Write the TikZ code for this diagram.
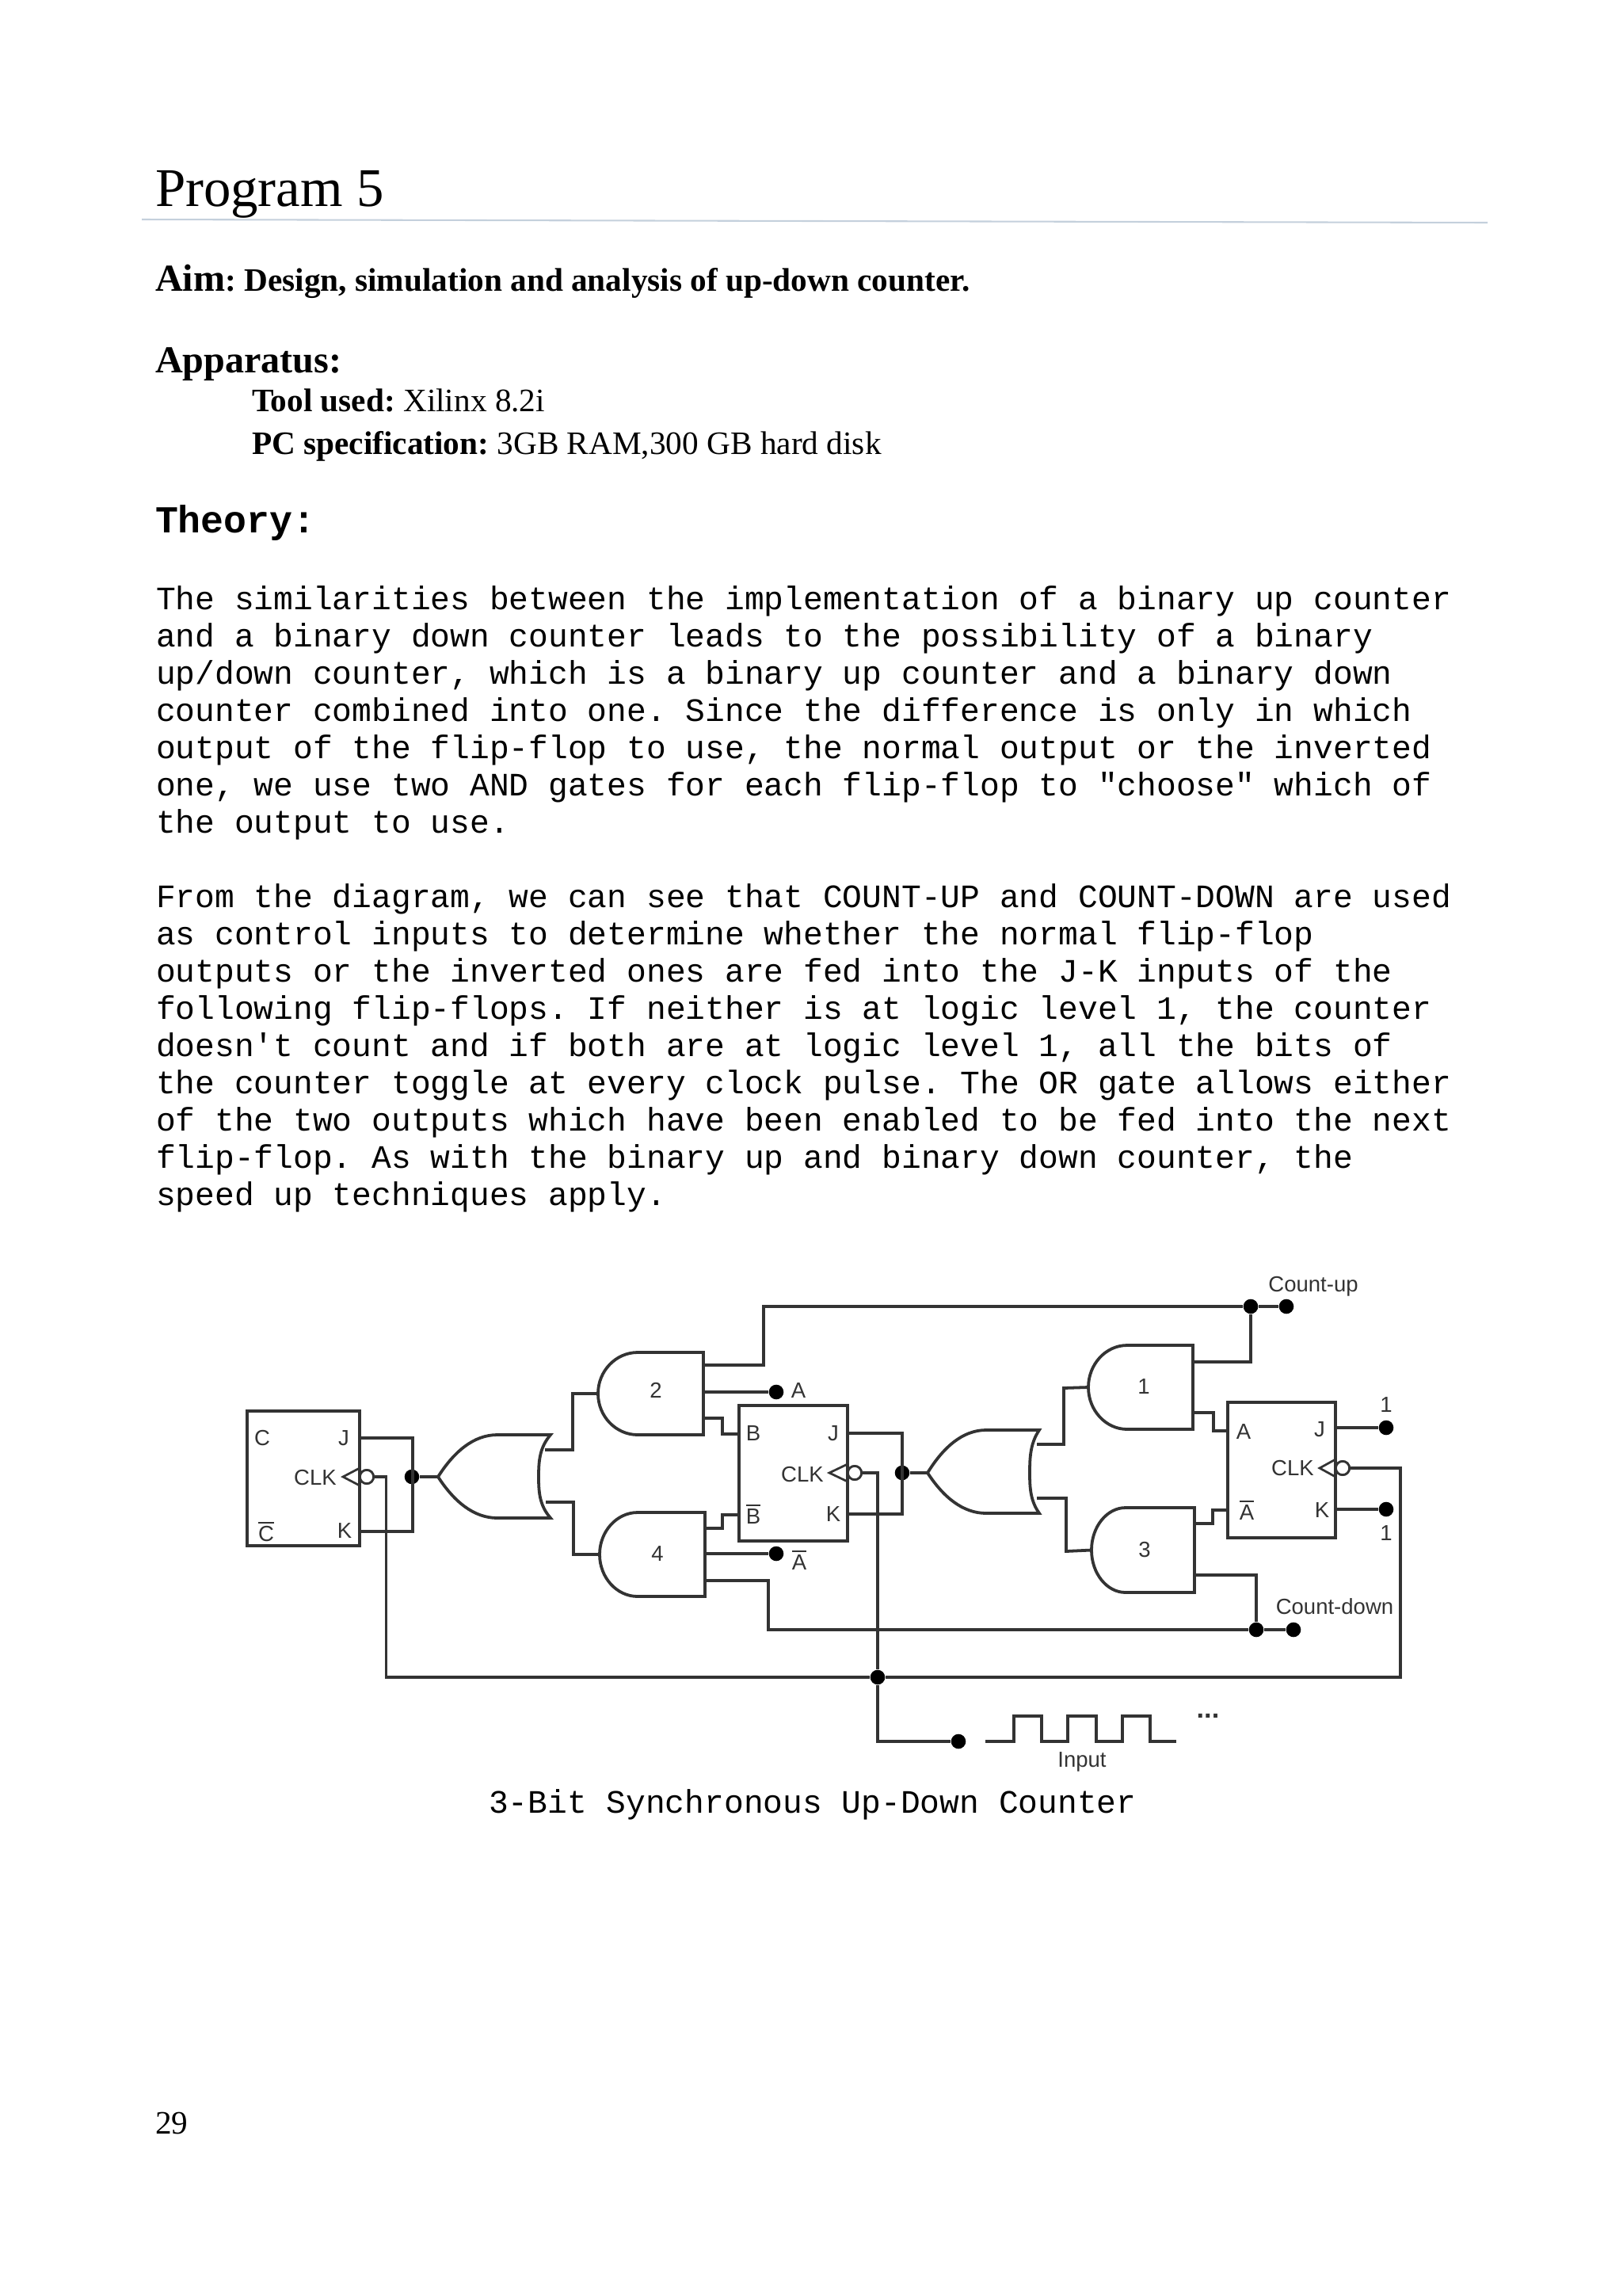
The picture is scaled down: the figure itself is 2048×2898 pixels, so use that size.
\documentclass[tikz,border=0pt]{standalone}
\usepackage{fontspec}
\setmainfont{Liberation Serif}
\newfontfamily\monof{Liberation Mono}
\newfontfamily\labf{Liberation Sans}
\usetikzlibrary{calc}
\definecolor{wirec}{HTML}{333333}
\definecolor{labc}{HTML}{333333}
\definecolor{rulec}{HTML}{C4D0DC}
\frenchspacing
\tikzset{
  txt/.style={anchor=base west,inner sep=0pt,outer sep=0pt,text=black},
  code/.style={txt,font=\monof\fontsize{12}{12}\selectfont},
  wire/.style={draw=wirec,line width=1.1pt,line join=miter},
  gate/.style={wire,fill=white},
  dot/.style={circle,fill=black,draw=none,inner sep=0pt,minimum size=5.4pt},
  lab/.style={inner sep=0pt,outer sep=0pt,text=labc,font=\labf\fontsize{8}{8}\selectfont},
  bub/.style={circle,draw=wirec,line width=0.8pt,fill=white,inner sep=0pt,minimum size=5pt},
}
% and gate: name, x left, x start of flat part, x right, y top, y bottom
\newcommand{\andg}[6]{%
  \path[gate] (#4,#5) -- (#3,#5) .. controls ({#2+0.45*(#3-#2)},#5) and (#2,{#5+0.225*(#6-#5)}) .. (#2,{(#5+#6)/2})
     .. controls (#2,{#5+0.775*(#6-#5)}) and ({#2+0.45*(#3-#2)},#6) .. (#3,#6) -- (#4,#6) -- cycle;
  \coordinate (#1in) at (#2,{(#5+#6)/2});}
% or gate: name, tip x, tip y, x flat start, x right, x back, y top, y bottom
\newcommand{\org}[8]{%
  \path[gate] (#2,#3) .. controls ({#2+0.27*(#4-#2)},{#3+0.6*(#7-#3)}) and ({#2+0.6*(#4-#2)},#7) .. (#4,#7)
     -- (#5,#7) .. controls ({#6+0.1*(#5-#6)},{#7+0.3*(#3-#7)}) and (#6,{#7+0.6*(#3-#7)}) .. (#6,#3)
     .. controls (#6,{#8+0.6*(#3-#8)}) and ({#6+0.1*(#5-#6)},{#8+0.3*(#3-#8)}) .. (#5,#8)
     -- (#4,#8) .. controls ({#2+0.6*(#4-#2)},#8) and ({#2+0.27*(#4-#2)},{#3+0.6*(#8-#3)}) .. (#2,#3) -- cycle;
  \coordinate (#1in) at (#2,#3);}
\begin{document}
\begin{tikzpicture}[x=0.29067pt,y=-0.29067pt]
\useasboundingbox (0,0) rectangle (2048,2898);

% ---- page text ----
\node[txt,font=\fontsize{20}{20}\selectfont] (title) at (196,260) {Program 5};
\coordinate (ruleL) at (179,277);
\coordinate (ruleR) at (1878,281);
\draw[rulec,line width=0.6pt] (ruleL) -- (ruleR);
\node[txt,font=\bfseries\fontsize{12}{12}\selectfont] (aim) at (196,367) {{\fontsize{14}{14}\selectfont Aim}: Design, simulation and analysis of up-down counter.};
\node[txt,font=\bfseries\fontsize{14}{14}\selectfont] (app) at (196,470) {Apparatus:};
\node[txt,font=\fontsize{12}{12}\selectfont] (tool) at (318,519) {\textbf{Tool used:} Xilinx 8.2i};
\node[txt,font=\fontsize{12}{12}\selectfont] (pc) at (318,573) {\textbf{PC specification:} 3GB RAM,300 GB hard disk};
\node[txt,font=\monof\bfseries\fontsize{14}{14}\selectfont] (theory) at (196,672) {Theory:};

\node[code] (a1) at (197,769.5) {The similarities between the implementation of a binary up counter};
\node[code] (a2) at (197,816.5) {and a binary down counter leads to the possibility of a binary};
\node[code] (a3) at (197,863.5) {up/down counter, which is a binary up counter and a binary down};
\node[code] (a4) at (197,910.5) {counter combined into one. Since the difference is only in which};
\node[code] (a5) at (197,957.5) {output of the flip-flop to use, the normal output or the inverted};
\node[code] (a6) at (197,1004.5) {one, we use two AND gates for each flip-flop to "choose" which of};
\node[code] (a7) at (197,1051.5) {the output to use.};

\node[code] (b1) at (197,1145.5) {From the diagram, we can see that COUNT-UP and COUNT-DOWN are used};
\node[code] (b2) at (197,1192.5) {as control inputs to determine whether the normal flip-flop};
\node[code] (b3) at (197,1239.5) {outputs or the inverted ones are fed into the J-K inputs of the};
\node[code] (b4) at (197,1286.5) {following flip-flops. If neither is at logic level 1, the counter};
\node[code] (b5) at (197,1333.5) {doesn't count and if both are at logic level 1, all the bits of};
\node[code] (b6) at (197,1380.5) {the counter toggle at every clock pulse. The OR gate allows either};
\node[code] (b7) at (197,1427.5) {of the two outputs which have been enabled to be fed into the next};
\node[code] (b8) at (197,1474.5) {flip-flop. As with the binary up and binary down counter, the};
\node[code] (b9) at (197,1521.5) {speed up techniques apply.};

\node[code] (cap) at (617,2288) {3-Bit Synchronous Up-Down Counter};
\node[txt,font=\fontsize{12}{12}\selectfont] (pnum) at (196,2693) {29};

% ---- flip-flops ----
\coordinate (ffCa) at (312,1781); \coordinate (ffCb) at (454,1951);
\coordinate (ffBa) at (933,1774); \coordinate (ffBb) at (1070,1945);
\coordinate (ffAa) at (1550,1770); \coordinate (ffAb) at (1686,1941);
\draw[wire] (ffCa) rectangle (ffCb);
\draw[wire] (ffBa) rectangle (ffBb);
\draw[wire] (ffAa) rectangle (ffAb);

% ---- named points ----
\node[dot] (jc) at (520,1864) {};
\node[dot] (jb) at (1139,1859) {};
\node[dot] (jclk) at (1108,2117) {};
\node[dot] (jup) at (1579,1649) {};
\node[dot] (up) at (1624,1649) {};
\node[dot] (jdn) at (1586,2057) {};
\node[dot] (dn) at (1633,2057) {};
\node[dot] (oa) at (980,1757) {};
\node[dot] (oab) at (980,1961) {};
\node[dot] (oj) at (1750,1802) {};
\node[dot] (ok) at (1750,1905) {};
\node[dot] (inp) at (1210,2198) {};

\coordinate (cj) at (454,1815); \coordinate (ck) at (454,1933); \coordinate (cor) at (521,1815); \coordinate (cor2) at (521,1933);
\coordinate (bj) at (1070,1809); \coordinate (bk) at (1070,1911); \coordinate (bor) at (1139,1809); \coordinate (bor2) at (1139,1911);

% ---- wires beneath the gates ----
\draw[wire] (cj) -- (cor) -- (cor2) -- (ck);
\draw[wire] (bj) -- (bor) -- (bor2) -- (bk);

% clock network
\node[bub] (cbub) at (463,1864) {};
\node[bub] (bbub) at (1079,1859) {};
\node[bub] (abub) at (1695,1853) {};
\coordinate (cc1) at (487.5,1864); \coordinate (cc2) at (487.5,2117);
\coordinate (bc1) at (1108,1859);
\coordinate (ac1) at (1768,1853); \coordinate (ac2) at (1768,2117);
\coordinate (ic1) at (1108,2198);
\draw[wire] (cbub) -- (cc1) -- (cc2) -- (jclk) -- (ac2) -- (ac1) -- (abub);
\draw[wire] (bbub) -- (bc1) -- (jclk) -- (ic1) -- (inp);

% clock triangles
\draw[wire,line width=0.8pt] (454,1853) -- (433,1864) -- (454,1875);
\draw[wire,line width=0.8pt] (1070,1848) -- (1047,1859) -- (1070,1870);
\draw[wire,line width=0.8pt] (1686,1842) -- (1666,1853) -- (1686,1864);
\node[bub] at (cbub) {};
\node[bub] at (bbub) {};
\node[bub] at (abub) {};

% ---- gates ----
\org{orc}{553}{1864}{628}{695}{680}{1811}{1916}
\org{orb}{1171}{1859}{1245}{1312}{1300}{1805}{1910}
\andg{g2}{755}{805}{888}{1707}{1811}
\andg{g4}{757}{805}{890}{1909}{2015}
\andg{g1}{1374}{1423}{1506}{1698}{1804}
\andg{g3}{1378}{1421}{1508}{1903}{2010}

% ---- gate wiring ----
\draw[wire] (jc) -- (orcin);
\draw[wire] (jb) -- (orbin);
\draw[wire] (688,1830) -- (723,1830) -- (723,1759) -- (g2in);
\draw[wire] (689,1896) -- (724,1896) -- (724,1962) -- (g4in);
\draw[wire] (1309,1823) -- (1343,1823) -- (1343,1752) -- (g1in);
\draw[wire] (1309,1891) -- (1346,1891) -- (1346,1958) -- (g3in);

% control lines
\draw[wire] (888,1723) -- (964,1723) -- (964,1649) -- (jup) -- (up);
\draw[wire] (1506,1719) -- (1579,1719) -- (jup);
\draw[wire] (890,1995) -- (970,1995) -- (970,2057) -- (jdn) -- (dn);
\draw[wire] (1508,1988) -- (1586,1988) -- (jdn);

% to flip-flop inputs
\draw[wire] (888,1790) -- (912,1790) -- (912,1810) -- (933,1810);
\draw[wire] (890,1929) -- (912,1929) -- (912,1912) -- (933,1912);
\draw[wire] (1506,1783) -- (1532,1783) -- (1532,1806) -- (1550,1806);
\draw[wire] (1508,1923) -- (1531,1923) -- (1531,1906) -- (1550,1906);

% outputs
\draw[wire] (888,1757) -- (oa);
\draw[wire] (890,1961) -- (oab);
\draw[wire] (1686,1802) -- (oj);
\draw[wire] (1686,1905) -- (ok);

% input waveform
\coordinate (w0) at (1244,2198);
\coordinate (w1) at (1485,2198);
\draw[wire] (w0) -- (1280,2198) -- (1280,2166) -- (1315,2166) -- (1315,2198) -- (1348,2198) -- (1348,2166) -- (1384,2166) -- (1384,2198) -- (1417,2198) -- (1417,2166) -- (1452,2166) -- (1452,2198) -- (w1);

% ---- labels ----
\node[lab] (lcc) at (331,1815) {C};
\node[lab] (lcj) at (434,1815) {J};
\node[lab] (lcclk) at (398,1865) {CLK};
\node[lab] (lck) at (435,1932) {K};
\node[lab] (lcb) at (336,1933) {$\overline{\mbox{C}}$};
\node[lab] (lbb) at (951,1809) {B};
\node[lab] (lbn) at (951,1911) {$\overline{\mbox{B}}$};
\node[lab] (lbj) at (1052,1809) {J};
\node[lab] (lbclk) at (1013,1861) {CLK};
\node[lab] (lbk) at (1052,1911) {K};
\node[lab] (laa) at (1570,1807) {A};
\node[lab] (lan) at (1574,1906) {$\overline{\mbox{A}}$};
\node[lab] (laj) at (1666,1804) {J};
\node[lab] (laclk) at (1632,1853) {CLK};
\node[lab] (lak) at (1669,1906) {K};
\node[lab] (l2) at (828,1755) {2};
\node[lab] (l4) at (830,1961) {4};
\node[lab] (l1) at (1444,1750) {1};
\node[lab] (l3) at (1445,1956) {3};
\node[lab] (lA) at (1008,1755) {A};
\node[lab] (lAb) at (1009,1969) {$\overline{\mbox{A}}$};
\node[lab] (lo1) at (1750,1773) {1};
\node[lab] (lo2) at (1750,1935) {1};
\node[lab] (lup) at (1658,1624) {Count-up};
\node[lab] (ldn) at (1685,2028) {Count-down};
\node[lab] (lin) at (1366,2224) {Input};
\node[lab,font=\labf\bfseries\fontsize{10}{10}\selectfont] (ldots) at (1525,2166) {...};
\end{tikzpicture}
\end{document}
